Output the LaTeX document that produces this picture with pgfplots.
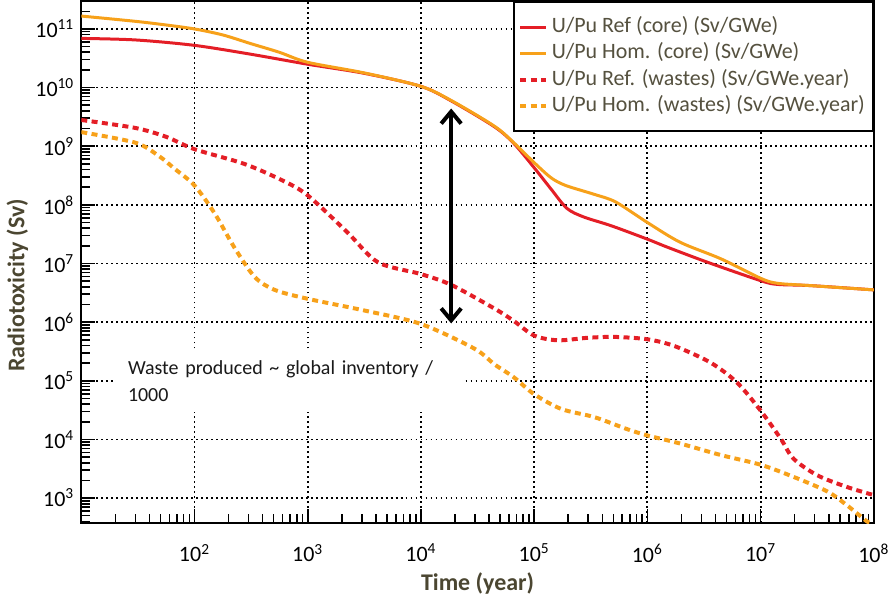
\documentclass[border=0pt]{standalone}
\usepackage{fontspec}
\setmainfont{Carlito}
\usepackage{pgfplots}
\pgfplotsset{compat=1.18}
\usetikzlibrary{arrows.meta}
\definecolor{cref}{HTML}{E41E26}
\definecolor{chom}{HTML}{F7A11A}
\definecolor{lbl}{HTML}{4B4631}
\definecolor{legtxt}{HTML}{55513F}

\begin{document}
\begin{tikzpicture}
\begin{axis}[
  scale only axis, width=397pt, height=261.5pt,
  xmode=log, ymode=log, log basis x=10, log basis y=10,
  xmin=10, xmax=1e8, ymin=375, ymax=3e11,
  xtick={1e2,1e3,1e4,1e5,1e6,1e7,1e8},
  xticklabels={10\textsuperscript{2},10\textsuperscript{3},10\textsuperscript{4},10\textsuperscript{5},10\textsuperscript{6},10\textsuperscript{7},10\textsuperscript{8}},
  minor xtick={2e1,3e1,4e1,5e1,6e1,7e1,8e1,9e1,2e2,3e2,4e2,5e2,6e2,7e2,8e2,9e2,
    2e3,3e3,4e3,5e3,6e3,7e3,8e3,9e3,2e4,3e4,4e4,5e4,6e4,7e4,8e4,9e4,
    2e5,3e5,4e5,5e5,6e5,7e5,8e5,9e5,2e6,3e6,4e6,5e6,6e6,7e6,8e6,9e6,
    2e7,3e7,4e7,5e7,6e7,7e7,8e7,9e7},
  ytick={1e3,1e4,1e5,1e6,1e7,1e8,1e9,1e10,1e11},
  yticklabels={10\textsuperscript{3},10\textsuperscript{4},10\textsuperscript{5},10\textsuperscript{6},10\textsuperscript{7},10\textsuperscript{8},10\textsuperscript{9},10\textsuperscript{10},10\textsuperscript{11}},
  minor ytick={4e2,5e2,6e2,7e2,8e2,9e2,2e3,3e3,4e3,5e3,6e3,7e3,8e3,9e3,
    2e4,3e4,4e4,5e4,6e4,7e4,8e4,9e4,2e5,3e5,4e5,5e5,6e5,7e5,8e5,9e5,
    2e6,3e6,4e6,5e6,6e6,7e6,8e6,9e6,2e7,3e7,4e7,5e7,6e7,7e7,8e7,9e7,
    2e8,3e8,4e8,5e8,6e8,7e8,8e8,9e8,2e9,3e9,4e9,5e9,6e9,7e9,8e9,9e9,
    2e10,3e10,4e10,5e10,6e10,7e10,8e10,9e10,2e11},
  tick label style={font=\fontsize{11}{13}\selectfont},
  xticklabel style={yshift=-7pt},
  yticklabel style={xshift=0pt},
  axis line style={line width=1pt},
  tick style={black, line width=0.8pt},
  tick align=inside, tick pos=left,
  major tick length=7pt, minor tick length=4.5pt,
  grid=major, grid style={black, line width=0.9pt, dash pattern=on 0.9pt off 1.6pt},
  xlabel={Time (year)}, ylabel={Radiotoxicity (Sv)},
  label style={font=\fontsize{12}{14}\selectfont\bfseries, text=lbl},
  xlabel style={at={(axis description cs:0.5,-0.116)}, anchor=center},
  ylabel style={at={(axis description cs:-0.0806,0.455)}, anchor=center},
  no marks,
  legend style={at={(rel axis cs:1,1)}, anchor=north east, draw=black, line width=1pt,
    fill=white, font=\fontsize{11}{13}\selectfont\color{legtxt},
    nodes={inner ysep=0.5pt, inner xsep=2pt, text height=8.7pt, text depth=3.5pt},
    inner xsep=2pt, inner ysep=6pt},
  legend cell align=left,
  legend image code/.code={\draw[#1] plot coordinates {(0cm,0cm) (0.45cm,0cm)};},
]
% U/Pu Ref core
\addplot[cref, line width=1.5pt, smooth, tension=0.5] coordinates {
 (10,6.9e10) (30,6.5e10) (100,5.25e10) (316,3.7e10) (1000,2.5e10) (3162,1.75e10)
 (1e4,1.05e10) (1.86e4,5.9e9) (4.47e4,2.14e9) (6.6e4,1.12e9) (1e5,4.3e8)
 (1.41e5,1.86e8) (1.95e5,8.7e7) (2.75e5,6.2e7) (4.8e5,4.4e7) (1e6,2.6e7)
 (1.5e6,1.9e7) (3.4e6,1.05e7) (1e7,5.1e6) (1.41e7,4.4e6) (2.75e7,4.2e6) (1e8,3.55e6)};
% U/Pu Hom core
\addplot[chom, line width=1.5pt, smooth, tension=0.5] coordinates {
 (10,1.66e11) (30,1.35e11) (56,1.17e11) (100,1.0e11) (178,7.9e10) (316,5.6e10)
 (562,4.0e10) (1000,2.7e10) (3162,1.78e10)
 (1e4,1.05e10) (1.86e4,6.0e9) (4.47e4,2.19e9) (6.6e4,1.15e9) (1e5,5.25e8)
 (1.41e5,2.9e8) (1.9e5,2.14e8) (3.4e5,1.51e8) (5.25e5,1.12e8) (1e6,5.0e7)
 (1.95e6,2.3e7) (4.47e6,1.2e7) (1e7,5.6e6) (1.41e7,4.6e6) (2.75e7,4.2e6) (1e8,3.55e6)};
% U/Pu Ref wastes
\addplot[cref, line width=2pt, dash pattern=on 3pt off 2.2pt, smooth, tension=0.5] coordinates {
 (10,2.8e9) (30,2.05e9) (56,1.45e9) (100,8.9e8) (275,5.0e8) (600,2.6e8) (1000,1.45e8) (2240,3.4e7)
 (4170,1.05e7) (1e4,6.6e6) (1.86e4,4.3e6) (4.47e4,1.7e6) (6.6e4,1.05e6)
 (1e5,5.9e5) (1.62e5,4.9e5) (2.95e5,5.4e5) (5.1e5,5.6e5) (1e6,5.1e5)
 (1.74e6,3.9e5) (3.6e6,2.05e5) (6.2e6,9.3e4) (1e7,3.1e4) (1.51e7,1.02e4)
 (1.95e7,4.7e3) (3.16e7,2.45e3) (5.75e7,1.55e3) (1e8,1.12e3)};
% U/Pu Hom wastes
\addplot[chom, line width=2pt, dash pattern=on 3pt off 2.2pt, smooth, tension=0.5] coordinates {
 (10,1.74e9) (30,1.15e9) (48,6.9e8) (66,4.2e8) (100,2.14e8) (151,7.1e7)
 (224,1.9e7) (340,5.9e6) (510,3.55e6) (1000,2.5e6) (3162,1.58e6) (1e4,9.3e5)
 (2.95e4,3.55e5) (4.47e4,1.9e5) (6.6e4,1.15e5) (1e5,5.9e4) (1.74e5,3.3e4)
 (3.4e5,2.4e4) (6.6e5,1.5e4) (1e6,1.17e4) (1.95e6,8.5e3) (4.47e6,5.4e3)
 (1e7,3.7e3) (1.95e7,2.3e3) (3.9e7,1.29e3) (5.75e7,760) (8.7e7,400) (9.5e7,380)};
\legend{U/Pu Ref (core) (Sv/GWe), U/Pu Hom. (core) (Sv/GWe),
  U/Pu Ref. (wastes) (Sv/GWe.year), U/Pu Hom. (wastes) (Sv/GWe.year)}
\node[fill=white, anchor=north west, align=left, inner xsep=6.5pt, inner ysep=5pt,
  text width=161pt, font=\fontsize{10}{13.5}\selectfont, text=black!90, yshift=-2.5pt]
  at (axis cs:19.7,4.0e5) {Waste produced \textasciitilde{} global inventory /\\1000};
\draw[line width=2pt, {Straight Barb[length=6pt,width=10pt]}-{Straight Barb[length=6pt,width=10pt]}]
  (axis cs:1.85e4,9.5e5) -- (axis cs:1.85e4,4.4e9);
\end{axis}
\end{tikzpicture}
\end{document}
